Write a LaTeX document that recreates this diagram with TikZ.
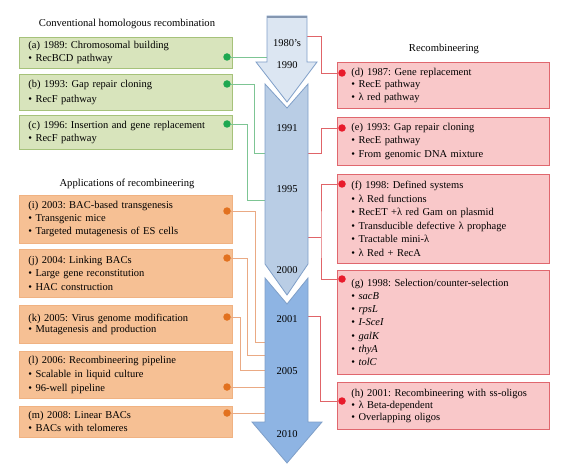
\documentclass[tikz,border=0pt]{standalone}
\usepackage{fontspec}
\setmainfont{Liberation Serif}
\frenchspacing
\definecolor{gfill}{HTML}{D8E4BC}
\definecolor{gdraw}{HTML}{A6C27A}
\definecolor{gdot}{HTML}{1EA850}
\definecolor{gline}{HTML}{7DC594}
\definecolor{rfill}{HTML}{F9C8C9}
\definecolor{rdraw}{HTML}{E0676E}
\definecolor{rdot}{HTML}{E81B2B}
\definecolor{rline}{HTML}{E06468}
\definecolor{ofill}{HTML}{F6C094}
\definecolor{odraw}{HTML}{F0B282}
\definecolor{odot}{HTML}{E2711F}
\definecolor{oline}{HTML}{EAAA84}
\definecolor{aone}{HTML}{DCE6F2}
\definecolor{atwo}{HTML}{B9CDE5}
\definecolor{athree}{HTML}{8EB4E3}
\definecolor{aedge}{HTML}{7F9FC8}
\definecolor{acap}{HTML}{8496B0}
\begin{document}
\begin{tikzpicture}[x=1pt,y=-1pt,
  lsp/.style={font=\fontsize{10.5}{#1}\selectfont},
  box/.style={line width=0.8pt, anchor=north west, align=left, inner ysep=1pt, lsp=13},
  gbox/.style={box, fill=gfill, draw=gdraw, inner xsep=9pt, minimum width=213pt, text width=195pt},
  rbox/.style={box, fill=rfill, draw=rdraw, inner xsep=14pt, minimum width=212pt, text width=184pt},
  obox/.style={box, fill=ofill, draw=odraw, inner xsep=9pt, minimum width=213pt, text width=195pt},
  dotshape/.style={circle, inner sep=0pt, minimum size=7.5pt},
  gd/.style={dotshape, fill=gdot},
  rd/.style={dotshape, fill=rdot},
  od/.style={dotshape, fill=odot},
  gl/.style={draw=gline, line width=0.8pt},
  rl/.style={draw=rline, line width=0.8pt},
  ol/.style={draw=oline, line width=0.8pt},
  arr/.style={draw=aedge, line width=0.8pt},
  title/.style={font=\fontsize{10.6}{12}\selectfont},
  yr/.style={font=\fontsize{10.5}{12}\selectfont},
]
\useasboundingbox (0,0) rectangle (577,470);

% titles
\node[title] (t1) at (127,24) {Conventional homologous recombination};
\node[title] (t2) at (444,49) {Recombineering};
\node[title] (t3) at (127,184) {Applications of recombineering};

% green boxes
\node[gbox, minimum height=31pt] (a) at (19,37) {(a) 1989: Chromosomal building\\ \textbullet\ RecBCD pathway};
\node[gbox, minimum height=36pt, lsp=15] (b) at (19,74) {(b) 1993: Gap repair cloning\\ \textbullet\ RecF pathway};
\node[gbox, minimum height=34pt] (c) at (19,115) {(c) 1996: Insertion and gene replacement\\ \textbullet\ RecF pathway};

% red boxes
\node[rbox, minimum height=46pt, lsp=12.5] (d) at (337,62) {(d) 1987: Gene replacement\\ \textbullet\ RecE pathway\\ \textbullet\ λ red pathway};
\node[rbox, minimum height=48pt, lsp=13.5] (e) at (337,117) {(e) 1993: Gap repair cloning\\ \textbullet\ RecE pathway\\ \textbullet\ From genomic DNA mixture};
\node[rbox, minimum height=89pt, lsp=13.6] (f) at (337,174) {(f) 1998: Defined systems\\ \textbullet\ λ Red functions\\ \textbullet\ RecET +λ red Gam on plasmid\\ \textbullet\ Transducible defective λ prophage\\ \textbullet\ Tractable mini-λ\\ \textbullet\ λ Red + RecA};
\node[rbox, minimum height=104pt, lsp=13.3] (g) at (337,270) {(g) 1998: Selection/counter-selection\\ \textbullet\ \textit{sacB}\\ \textbullet\ \textit{rpsL}\\ \textbullet\ \textit{I-SceI}\\ \textbullet\ \textit{galK}\\ \textbullet\ \textit{thyA}\\ \textbullet\ \textit{tolC}};
\node[rbox, minimum height=47pt, lsp=12] (h) at (337,382) {(h) 2001: Recombineering with ss-oligos\\ \textbullet\ λ Beta-dependent\\ \textbullet\ Overlapping oligos};

% orange boxes
\node[obox, minimum height=48pt] (i) at (19,195) {(i) 2003: BAC-based transgenesis\\ \textbullet\ Transgenic mice\\ \textbullet\ Targeted mutagenesis of ES cells};
\node[obox, minimum height=48pt, lsp=13.5] (j) at (19,249) {(j) 2004: Linking BACs\\ \textbullet\ Large gene reconstitution\\ \textbullet\ HAC construction};
\node[obox, minimum height=38pt, lsp=11.5] (k) at (19,305) {(k) 2005: Virus genome modification\\ \textbullet\ Mutagenesis and production};
\node[obox, minimum height=47pt, lsp=14] (l) at (19,351) {(l) 2006: Recombineering pipeline\\ \textbullet\ Scalable in liquid culture\\ \textbullet\ 96-well pipeline};
\node[obox, minimum height=31pt] (m) at (19,406) {(m) 2008: Linear BACs\\ \textbullet\ BACs with telomeres};

% dots
\node[gd] (da) at (227,57) {};
\node[gd] (db) at (227,84) {};
\node[gd] (dc) at (227,124) {};
\node[rd] (dd) at (342,73) {};
\node[rd] (de) at (342,128) {};
\node[rd] (df) at (342,184) {};
\node[rd] (dg) at (342,279) {};
\node[rd] (dh) at (342,401) {};
\node[od] (di) at (227,211) {};
\node[od] (dj) at (227,258) {};
\node[od] (dk) at (227,317) {};
\node[od] (dl) at (227,387) {};
\node[od] (dm) at (227,413) {};

% arrow anchor coordinates
\coordinate (ea) at (268,57);
\coordinate (eb) at (266,153);
\coordinate (ec) at (266,200);
\coordinate (ed) at (306,36);
\coordinate (ee) at (307,153);
\coordinate (ef) at (307,237);
\coordinate (eh) at (307,316);
\coordinate (ei) at (266,342);
\coordinate (ej) at (266,355);
\coordinate (ek) at (266,370);
\coordinate (el) at (266,387);
\coordinate (em) at (266,413);

% connectors
\draw[gl] (da) -- (ea);
\draw[gl] (db) -- ++(27,0) |- (eb);
\draw[gl] (dc) -- ++(20,0) |- (ec);
\draw[rl] (ed) -- ++(15,0) |- (dd);
\draw[rl] (ee) -- ++(14,0) |- (de);
\draw[rl] (ef) -- ++(14,0) coordinate (fg);
\draw[rl] (df) -| (fg) |- (dg);
\draw[rl] (eh) -- ++(13,0) |- (dh);
\draw[ol] (di) -- ++(28,0) |- (ei);
\draw[ol] (dj) -- ++(20,0) |- (ej);
\draw[ol] (dk) -- ++(13,0) |- (ek);
\draw[ol] (dl) -- (el);
\draw[ol] (dm) -- (em);

% timeline arrows
\draw[arr, fill=aone] (267,16) -- (307,16) -- (307,62) -- (317,62) -- (287,102) -- (256,62) -- (267,62) -- cycle;
\draw[acap, line width=2.6pt] (267.4,17) -- (306.6,17);
\draw[arr, fill=atwo] (265,84) -- (287,108) -- (308,84) -- (308,264) -- (287,295) -- (265,264) -- cycle;
\draw[arr, fill=athree] (265,278) -- (287,304) -- (308,278) -- (308,422) -- (322,422) -- (287,463) -- (252,422) -- (265,422) -- cycle;

% years
\node[yr] (y1) at (287,43) {1980's};
\node[yr] (y2) at (287,65) {1990};
\node[yr] (y3) at (287,128) {1991};
\node[yr] (y4) at (287,189) {1995};
\node[yr] (y5) at (287,270) {2000};
\node[yr] (y6) at (287,319) {2001};
\node[yr] (y7) at (287,371) {2005};
\node[yr] (y8) at (287,434) {2010};
\end{tikzpicture}
\end{document}
